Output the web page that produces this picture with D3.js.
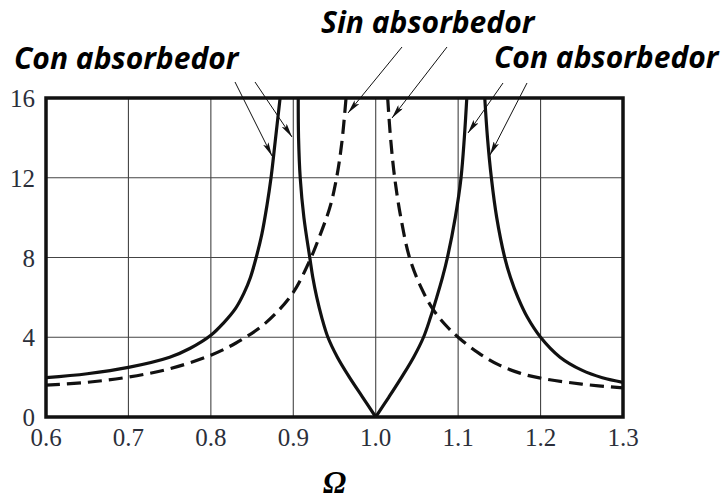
<!DOCTYPE html>
<html>
<head>
<meta charset="utf-8">
<script src="https://cdn.jsdelivr.net/npm/d3@7"></script>
<style>
  body { margin: 0; background: #fff; }
</style>
</head>
<body>
<svg width="722" height="499"></svg>
<script>
// ticks
const xTicks = [0.6, 0.7, 0.8, 0.9, 1.0, 1.1, 1.2, 1.3];
const yTicks = [0, 4, 8, 12, 16];

// Sin absorbedor (dashed)
const sinLeftX = [0.60, 0.65, 0.70, 0.75, 0.80, 0.83, 0.86, 0.88, 0.90, 0.92, 0.935, 0.945, 0.953, 0.959, 0.964];
const sinLeftY = [1.60, 1.74, 2.00, 2.42, 3.10, 3.70, 4.50, 5.25, 6.25, 7.85, 9.40, 10.6, 12.1, 13.8, 16.0];
const sinRightX = [1.0145, 1.018, 1.023, 1.0305, 1.041, 1.055, 1.07, 1.085, 1.10, 1.125, 1.15, 1.175, 1.20, 1.25, 1.30];
const sinRightY = [16.0, 14.0, 12.0, 10.0, 8.0, 6.5, 5.37, 4.6, 4.0, 3.2, 2.6, 2.2, 1.95, 1.65, 1.46];

// Con absorbedor (solid)
const conAX = [0.60, 0.65, 0.70, 0.75, 0.775, 0.80, 0.815, 0.83, 0.84, 0.848, 0.855, 0.862, 0.868, 0.873, 0.878, 0.884];
const conAY = [1.97, 2.17, 2.49, 3.00, 3.45, 4.10, 4.70, 5.45, 6.20, 7.00, 8.00, 9.20, 10.6, 12.0, 13.8, 16.0];
const conBX = [0.906, 0.9064, 0.9084, 0.9129, 0.920, 0.9237, 0.9285, 0.9345, 0.942, 0.9535, 0.968, 0.984, 1.0];
const conBY = [16.0, 14.0, 12.0, 10.0, 8.0, 7.0, 6.0, 5.0, 4.0, 3.0, 2.0, 1.0, 0.0];
const conCX = [1.0, 1.016, 1.0315, 1.046, 1.058, 1.0665, 1.074, 1.081, 1.087, 1.0965, 1.1035, 1.1075, 1.1105];
const conCY = [0.0, 1.0, 2.0, 3.0, 4.0, 5.0, 6.0, 7.0, 8.0, 10.0, 12.0, 14.0, 16.0];
const conDX = [1.1323, 1.1356, 1.1403, 1.1468, 1.1565, 1.1635, 1.1725, 1.184, 1.20, 1.2236, 1.25, 1.275, 1.30];
const conDY = [16.0, 14.0, 12.0, 10.0, 8.0, 7.0, 6.0, 5.0, 4.0, 3.0, 2.35, 1.97, 1.74];

const svg = d3.select("svg");
const margin = {left: 46, top: 98, right: 99, bottom: 82};
const W = 722, H = 499;

const x = d3.scaleLinear().domain([0.6, 1.3]).range([margin.left, W - margin.right]);
const y = d3.scaleLinear().domain([0, 16]).range([H - margin.bottom, margin.top]);

svg.append("rect").attr("width", W).attr("height", H).attr("fill", "#fff");

// grid
const grid = svg.append("g");
grid.selectAll("line.gx").data(xTicks).enter().append("line")
  .attr("x1", d => x(d)).attr("x2", d => x(d))
  .attr("y1", y(0)).attr("y2", y(16))
  .attr("stroke", "#444").attr("stroke-width", 1.1);
grid.selectAll("line.gy").data(yTicks).enter().append("line")
  .attr("x1", x(0.6)).attr("x2", x(1.3))
  .attr("y1", d => y(d)).attr("y2", d => y(d))
  .attr("stroke", "#444").attr("stroke-width", 1.1);

// tick labels
const fx = d3.format(".1f");
xTicks.forEach(t => {
  svg.append("text").attr("x", x(t)).attr("y", y(0) + 29)
    .attr("text-anchor", "middle")
    .style("font-family", '"Liberation Serif"').style("font-size", "25px").style("fill", "#2b2f3a")
    .text(fx(t));
});
yTicks.forEach(t => {
  svg.append("text").attr("x", x(0.6) - 11).attr("y", y(t) + 9)
    .attr("text-anchor", "end")
    .style("font-family", '"Liberation Serif"').style("font-size", "25px").style("fill", "#2b2f3a")
    .text(t);
});

// curves
svg.append("clipPath").attr("id", "clip").append("rect")
  .attr("x", x(0.6)).attr("y", y(16)).attr("width", x(1.3) - x(0.6)).attr("height", y(0) - y(16));

const line = d3.line().x(d => x(d[0])).y(d => y(d[1])).curve(d3.curveCatmullRom.alpha(0.5));
const zip = (a, b) => a.map((v, i) => [v, b[i]]);

const curves = svg.append("g").attr("clip-path", "url(#clip)");
[[sinLeftX, sinLeftY], [sinRightX, sinRightY]].forEach(s => {
  curves.append("path").attr("d", line(zip(s[0], s[1])))
    .attr("fill", "none").attr("stroke", "#111").attr("stroke-width", 3.2)
    .attr("stroke-dasharray", "14,7");
});
[[conAX, conAY], [conBX, conBY], [conCX, conCY], [conDX, conDY]].forEach(s => {
  curves.append("path").attr("d", line(zip(s[0], s[1])))
    .attr("fill", "none").attr("stroke", "#111").attr("stroke-width", 3.2);
});

// frame
svg.append("rect")
  .attr("x", x(0.6)).attr("y", y(16)).attr("width", x(1.3) - x(0.6)).attr("height", y(0) - y(16))
  .attr("fill", "none").attr("stroke", "#111").attr("stroke-width", 3.5);

// annotations
svg.append("defs").append("marker")
  .attr("id", "arr").attr("viewBox", "0 0 14 6").attr("refX", 14).attr("refY", 3)
  .attr("markerWidth", 14).attr("markerHeight", 6).attr("markerUnits", "userSpaceOnUse")
  .attr("orient", "auto")
  .append("path").attr("d", "M0,0 L14,3 L0,6 L3,3 Z").attr("fill", "#111");

const arrows = [
  [235, 82, 272, 156], [255, 82, 292, 137],
  [402, 47, 348, 113], [447, 47, 392, 118],
  [503, 83, 468, 133], [527, 83, 490, 155]
];
svg.selectAll("line.arrow").data(arrows).enter().append("line")
  .attr("x1", d => d[0]).attr("y1", d => d[1]).attr("x2", d => d[2]).attr("y2", d => d[3])
  .attr("stroke", "#111").attr("stroke-width", 1).attr("marker-end", "url(#arr)");

const lbl = (tx, ty, s) => svg.append("text").attr("x", tx).attr("y", ty)
  .style("font-family", '"Open Sans"').style("font-weight", "700")
  .style("font-style", "italic").style("font-size", "30px").style("fill", "#000").text(s);
lbl(14, 69, "Con absorbedor");
lbl(321, 33, "Sin absorbedor");
lbl(494, 68, "Con absorbedor");

svg.append("text").attr("x", (x(0.6) + x(1.3)) / 2).attr("y", 493)
  .attr("text-anchor", "middle")
  .style("font-family", '"Liberation Serif"').style("font-weight", "700")
  .style("font-style", "italic").style("font-size", "31px").text("Ω");
</script>
</body>
</html>
